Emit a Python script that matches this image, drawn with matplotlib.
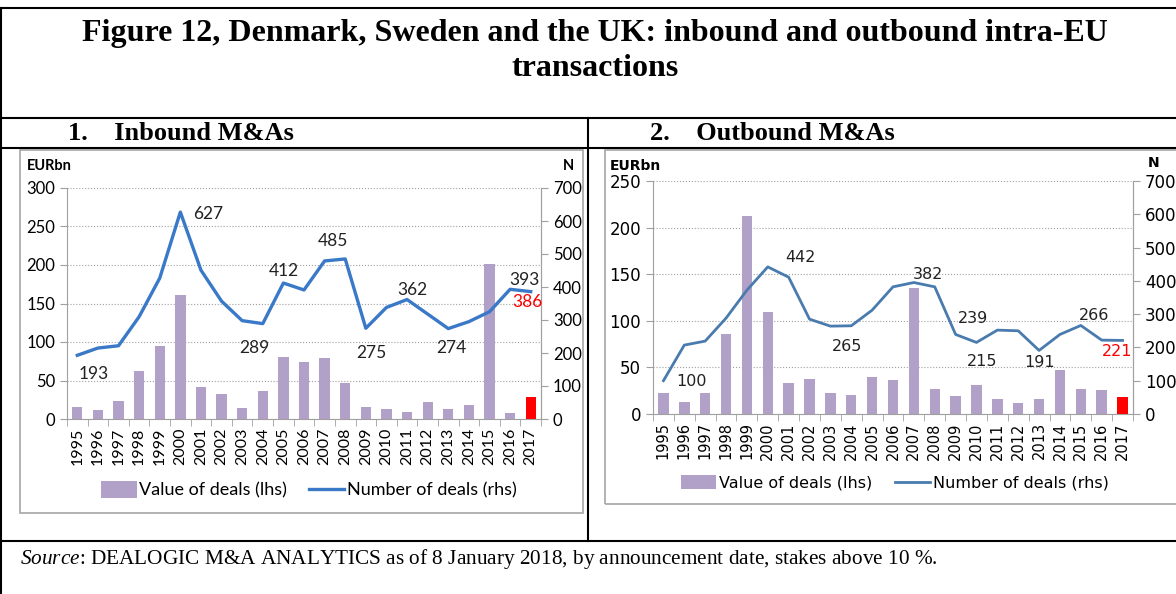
import matplotlib
matplotlib.use("Agg")
import matplotlib.pyplot as plt
from matplotlib.lines import Line2D
from matplotlib.patches import Rectangle, Patch

plt.rcParams['mathtext.fontset'] = 'custom'
plt.rcParams['mathtext.it'] = 'Liberation Serif:italic'
plt.rcParams['mathtext.rm'] = 'Liberation Serif'

W, H = 1176, 594

years = [str(y) for y in range(1995, 2018)]

# 1. Inbound M&As
in_value = [15.7, 12.2, 23.9, 61.7, 94.3, 161, 42.2, 33, 14.8, 36.5, 80.4, 73.5,
            79, 47, 15.7, 13, 8.7, 22.6, 13, 17.8, 201, 7.8, 28.3]
in_number = [193, 215, 222, 310, 427, 627, 451, 357, 298, 289, 412, 391,
             479, 485, 275, 338, 362, 318, 274, 295, 325, 393, 386]
in_labels = [(0, '193'), (5, '627'), (9, '289'), (10, '412'), (13, '485'), (14, '275'),
             (16, '362'), (18, '274'), (21, '393'), (22, '386')]

# 2. Outbound M&As
out_value = [22, 12.9, 23, 85.7, 212, 109, 33.6, 37.9, 22, 20.7, 40, 36.4,
             135, 26.4, 19.3, 30.7, 16, 11.4, 16, 47, 26.4, 25.4, 18.2]
out_number = [100, 207, 219, 288, 372, 442, 411, 285, 264, 265, 312, 382,
              395, 382, 239, 215, 252, 250, 191, 239, 266, 222, 221]
out_labels = [(0, '100'), (5, '442'), (9, '265'), (13, '382'), (14, '239'), (15, '215'),
              (18, '191'), (20, '266'), (22, '221')]

BAR = '#B1A0C7'
RED = '#FF0000'


def box(x0, y0, x1, y1):
    return [x0 / W, 1 - y1 / H, (x1 - x0) / W, (y1 - y0) / H]


def hline(fig, y, x0=0, x1=W, color='black', lw=1.5):
    fig.add_artist(Line2D([x0 / W, x1 / W], [1 - y / H, 1 - y / H], color=color, lw=lw))


def vline(fig, x, y0, y1, color='black', lw=1.5):
    fig.add_artist(Line2D([x / W, x / W], [1 - y0 / H, 1 - y1 / H], color=color, lw=lw))


fig = plt.figure(figsize=(W / 100, H / 100), dpi=100)

# table frame
hline(fig, 8)
hline(fig, 118)
hline(fig, 148)
hline(fig, 541)
vline(fig, 1.5, 8, 594)
vline(fig, 588, 118, 541)

serif = 'Liberation Serif'
fig.text(595 / W, 1 - 34 / H, 'Figure 12, Denmark, Sweden and the UK: inbound and outbound intra-EU',
         ha='center', va='center', family=serif, weight='bold', fontsize=23)
fig.text(595 / W, 1 - 68 / H, 'transactions', ha='center', va='center',
         family=serif, weight='bold', fontsize=23)
fig.text(68 / W, 1 - 134 / H, '1.    Inbound M&As', ha='left', va='center',
         family=serif, weight='bold', fontsize=19)
fig.text(650 / W, 1 - 134 / H, '2.    Outbound M&As', ha='left', va='center',
         family=serif, weight='bold', fontsize=19)
fig.text(20 / W, 1 - 559 / H,
         r'$\it{Source}$: DEALOGIC M&A ANALYTICS as of 8 January 2018, by announcement date, stakes above 10 %.',
         ha='left', va='center', family=serif, fontsize=15.3)

# chart frames
fig.add_artist(Rectangle((20 / W, 1 - 513 / H), 563 / W, 363 / H, transform=fig.transFigure,
                         fill=False, edgecolor='#A6A6A6', lw=1.2))
fig.add_artist(Rectangle((605 / W, 1 - 504 / H), 580 / W, 354 / H, transform=fig.transFigure,
                         fill=False, edgecolor='#A6A6A6', lw=1.2))


def draw(rect, values, numbers, labels, offsets, ymax, ystep, line_color, font, fs,
         unit_pos, n_pos, leg_pos, lw, legfs, hlen, colsp):
    ax = fig.add_axes(box(*rect))
    x = list(range(len(years)))
    colors = [BAR] * (len(values) - 1) + [RED]
    ax.bar(x, values, width=0.5, color=colors, zorder=2)
    ax.set_xlim(-0.5, len(years) - 0.5)
    ax.set_ylim(0, ymax)
    ax.set_yticks(range(0, ymax + 1, ystep))
    ax.yaxis.grid(True, linestyle=':', color='#A0A0A0', lw=0.8, zorder=0)
    ax.set_xticks(x)
    ax.set_xticklabels(years, rotation=90, family=font, fontsize=11.5 if font == 'Lato' else 10.5)
    ax.set_xticks([i + 0.5 for i in range(-1, len(years))], minor=True)
    ax.tick_params(axis='x', which='major', length=0, pad=6)
    ax.tick_params(axis='x', which='minor', length=5, color='#A0A0A0')
    ax.tick_params(axis='y', length=5, color='#A0A0A0', labelsize=fs)
    for t in ax.get_yticklabels():
        t.set_family(font)
    ax.spines['top'].set_visible(False)
    for s in ['left', 'right', 'bottom']:
        ax.spines[s].set_color('#A0A0A0')

    ax2 = ax.twinx()
    ax2.plot(x, numbers, color=line_color, lw=lw, zorder=3)
    ax2.set_ylim(0, 700)
    ax2.set_yticks(range(0, 701, 100))
    ax2.tick_params(axis='y', length=5, color='#A0A0A0', labelsize=fs)
    for t in ax2.get_yticklabels():
        t.set_family(font)
    ax2.spines['top'].set_visible(False)
    ax2.spines['left'].set_visible(False)
    ax2.spines['bottom'].set_visible(False)
    ax2.spines['right'].set_color('#A0A0A0')

    for (i, txt), (dx, dy) in zip(labels, offsets):
        c = RED if i == len(years) - 1 else '#222222'
        ax2.annotate(txt, xy=(i, numbers[i]), xytext=(dx, dy), textcoords='offset pixels',
                     ha='center', va='center', fontsize=12.5 if font == 'Lato' else 11.5,
                     color=c, family=font)

    fig.text(unit_pos[0] / W, 1 - unit_pos[1] / H, 'EURbn', ha='left', va='center',
             weight='bold', fontsize=10.5 if font == 'Lato' else 10, family=font)
    fig.text(n_pos[0] / W, 1 - n_pos[1] / H, 'N', ha='left', va='center',
             weight='bold', fontsize=10.5 if font == 'Lato' else 10, family=font)

    handles = [Patch(facecolor=BAR), Line2D([], [], color=line_color, lw=lw)]
    ax.legend(handles, ['Value of deals (lhs)', 'Number of deals (rhs)'], ncol=2,
              loc='center', bbox_to_anchor=(leg_pos[0] / W, 1 - leg_pos[1] / H),
              bbox_transform=fig.transFigure, frameon=False, handlelength=hlen,
              handleheight=1.0, handletextpad=0.15, columnspacing=colsp,
              prop={'family': font, 'size': legfs})
    return ax


draw((67, 188, 541, 419), in_value, in_number, in_labels,
     [(16, -19), (28, -2), (-8, -24), (0, 12), (-12, 18), (6, -25), (5, 10), (3, -19),
      (14, 9), (-3, -10)],
     300, 50, '#3A78C8', 'Lato', 12, (27, 166), (563, 166), (309, 490), 2.4,
     13, 1.95, 1.2)

draw((653, 181, 1133, 414), out_value, out_number, out_labels,
     [(28, -1), (33, 9), (-4, -21), (-7, 12), (17, 16), (6, -19), (0, -12), (13, 10),
      (-5, -11)],
     250, 50, '#4A7BAE', 'DejaVu Sans', 12, (610, 166), (1148, 163), (895, 483), 2.0,
     11.5, 2.2, 1.45)

fig.savefig('out.png', dpi=100)
